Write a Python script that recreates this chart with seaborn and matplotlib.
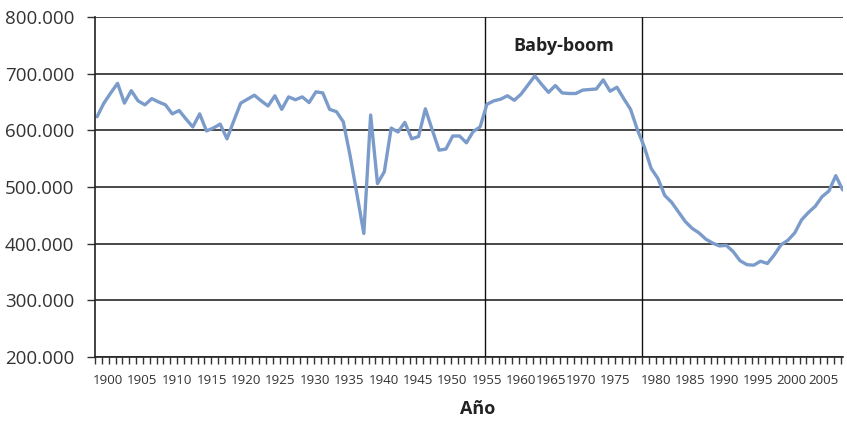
import matplotlib
matplotlib.use("Agg")
import matplotlib.pyplot as plt
import seaborn as sns
import pandas as pd
import numpy as np

years = list(range(1900, 2010))
births = [
    624000, 648000, 666000, 683000, 648000, 670000, 652000, 645000, 656000, 650000,  # 1900-1909
    645000, 629000, 635000, 620000, 606000, 629000, 599000, 604000, 611000, 585000,  # 1910-1919
    617000, 648000, 655000, 662000, 652000, 643000, 661000, 637000, 659000, 654000,  # 1920-1929
    659000, 649000, 668000, 666000, 637000, 633000, 615000, 555000, 487000, 418000,  # 1930-1939
    627000, 506000, 527000, 604000, 597000, 614000, 585000, 589000, 638000, 601000,  # 1940-1949
    565000, 567000, 590000, 590000, 578000, 598000, 606000, 646000, 652000, 655000,  # 1950-1959
    661000, 653000, 664000, 680000, 696000, 681000, 667000, 679000, 666000, 665000,  # 1960-1969
    665000, 671000, 672000, 673000, 689000, 669000, 676000, 656000, 637000, 601000,  # 1970-1979
    571000, 533000, 515000, 485000, 473000, 456000, 439000, 427000, 419000, 408000,  # 1980-1989
    401000, 396000, 397000, 386000, 370000, 363000, 362000, 369000, 365000, 380000,  # 1990-1999
    398000, 406000, 419000, 442000, 455000, 466000, 483000, 493000, 520000, 495000,  # 2000-2009
]
tick_label_years = [1900, 1905, 1910, 1915, 1920, 1925, 1930, 1935, 1940, 1945, 1950,
                    1955, 1960, 1965, 1970, 1975, 1980, 1985, 1990, 1995, 2000, 2005]
yticks = [200000, 300000, 400000, 500000, 600000, 700000, 800000]
boom_start, boom_end = 1956.7, 1979.7
annotation = "Baby-boom"
xlabel = "Año"

df = pd.DataFrame({"Año": years, "Nacimientos": births})

sns.set_style("white")
plt.rcParams["font.family"] = ["Open Sans", "DejaVu Sans"]

fig = plt.figure(figsize=(8.47, 4.24), dpi=100)
ax = fig.add_axes([95 / 847, 1 - 357 / 424, 748 / 847, 340 / 424])

x0 = 1899.7
px_per_year = 6.84
x1 = x0 + 748 / px_per_year

sns.lineplot(data=df, x="Año", y="Nacimientos", ax=ax, color="#7b9bcb", linewidth=2.4)

ax.set_xlim(x0, x1)
ax.set_ylim(200000, 800000)

# gridlines
for v in yticks:
    ax.axhline(v, color="#2a2a2a", linewidth=1.2, zorder=1)
ax.axvline(boom_start, color="#111111", linewidth=1.0, zorder=1)
ax.axvline(boom_end, color="#111111", linewidth=1.0, zorder=1)

# y axis
ax.set_yticks(yticks)
ax.set_yticklabels([f"{v:,.0f}".replace(",", ".") for v in yticks], fontsize=13.5, color="#333333")
ax.tick_params(axis="y", length=6, width=1.0, color="#333333", pad=9, left=True)

# x axis: minor ticks each year, labels at measured pixel centres
ax.set_xticks(np.arange(x0, x1, 1.0), minor=True)
label_px = [108, 142, 177, 212, 246, 280, 315, 349, 384, 418, 452,
            487, 521, 551, 581, 615, 656, 690, 724, 758, 791, 824]
ax.set_xticks([x0 + (p - 95) / px_per_year for p in label_px])
ax.set_xticklabels([str(y) for y in tick_label_years], fontsize=9.6, color="#333333")
ax.tick_params(axis="x", which="major", length=0, pad=12)
ax.tick_params(axis="x", which="minor", length=5, width=1.0, color="#333333", bottom=True)

for s in ["top", "right"]:
    ax.spines[s].set_visible(False)
for s in ["left", "bottom"]:
    ax.spines[s].set_color("#222222")
    ax.spines[s].set_linewidth(1.2)

ax.set_xlabel(xlabel, fontsize=13, fontweight="bold", color="#222222")
ax.xaxis.set_label_coords((478 - 95) / 748, (357 - 400) / 340)
ax.set_ylabel("")

ax.text((boom_start + boom_end) / 2, 748000, annotation, ha="center", va="center",
        fontsize=13, fontweight="bold", color="#222222")

fig.savefig("out.png", dpi=100)
